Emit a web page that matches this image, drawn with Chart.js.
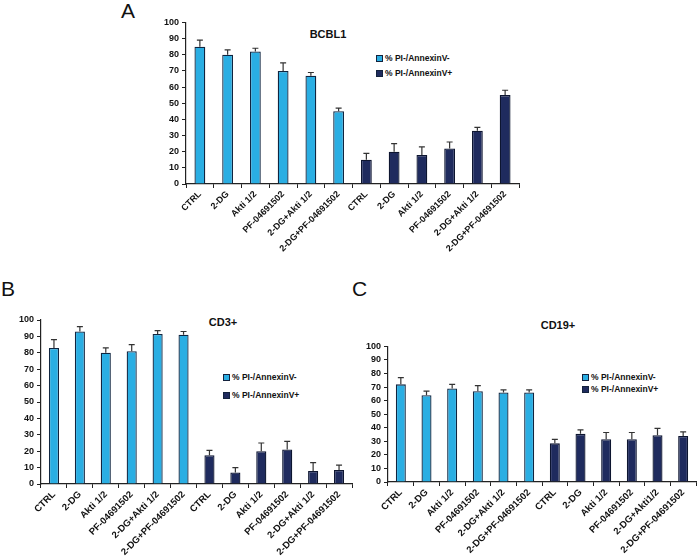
<!DOCTYPE html>
<html>
<head>
<meta charset="utf-8">
<script src="https://cdn.jsdelivr.net/npm/chart.js@4.4.0/dist/chart.umd.min.js"></script>
<style>
    body { margin: 0; width: 700px; height: 560px; background: #fff; position: relative; overflow: hidden; font-family: "Liberation Sans", Arial, sans-serif; color: #111; }
    canvas { position: absolute; }
    .letter { position: absolute; font-size: 21px; line-height: 1; }
    .title { position: absolute; font-size: 11px; font-weight: bold; transform: translateX(-50%); white-space: nowrap; }
    .legend { position: absolute; font-size: 8.5px; font-weight: bold; white-space: nowrap; }
    .legend div { position: absolute; left: 0; white-space: nowrap; }
    .box { display: inline-block; width: 5px; height: 5px; border: 1px solid #13223d; margin-right: 2px; vertical-align: -0.5px; }
</style>
</head>
<body>
<div class="letter" style="left:121px; top:0px;">A</div>
<div class="letter" style="left:1px; top:278px;">B</div>
<div class="letter" style="left:352px; top:278px;">C</div>

<div class="title" style="left:328px; top:28px;">BCBL1</div>
<div class="title" style="left:223px; top:316px;">CD3+</div>
<div class="title" style="left:558px; top:319px;">CD19+</div>

<div class="legend" style="left:376px; top:53px;">
    <div style="top:0px;"><span class="box" style="background:#2aaee3"></span>% PI-/AnnexinV-</div>
    <div style="top:15px;"><span class="box" style="background:#1f2b5e"></span>% PI-/AnnexinV+</div>
</div>
<div class="legend" style="left:223px; top:372px;">
    <div style="top:0px;"><span class="box" style="background:#2aaee3"></span>% PI-/AnnexinV-</div>
    <div style="top:18px;"><span class="box" style="background:#1f2b5e"></span>% PI-/AnnexinV+</div>
</div>
<div class="legend" style="left:582px; top:372px;">
    <div style="top:0px;"><span class="box" style="background:#2aaee3"></span>% PI-/AnnexinV-</div>
    <div style="top:12px;"><span class="box" style="background:#1f2b5e"></span>% PI-/AnnexinV+</div>
</div>

<canvas id="chartA" width="385" height="255" style="left:138px; top:14px;"></canvas>
<canvas id="chartB" width="356" height="250" style="left:0px; top:310px;"></canvas>
<canvas id="chartC" width="350" height="222" style="left:350px; top:338px;"></canvas>

<script>
const treatments = ['CTRL', '2-DG', 'Akti 1/2', 'PF-04691502', '2-DG+Akti 1/2', '2-DG+PF-04691502'];
const treatmentsC2 = ['CTRL', '2-DG', 'Akti 1/2', 'PF-04691502', '2-DG+Akti1/2', '2-DG+PF-04691502'];
const yTicks = [0, 10, 20, 30, 40, 50, 60, 70, 80, 90, 100];

// % PI-/AnnexinV- (live) and % PI-/AnnexinV+ (apoptotic), with error
const bcbl1Live = [85, 80, 82, 70, 67, 45];
const bcbl1LiveErr = [4, 3, 2, 5, 2, 2];
const bcbl1Apop = [15, 20, 18, 22, 33, 55];
const bcbl1ApopErr = [4, 5, 5, 4, 2, 3];

const cd3Live = [83, 93, 80, 81, 91.5, 91];
const cd3LiveErr = [5, 3, 3, 4, 2, 2];
const cd3Apop = [17.5, 7, 20, 21, 8, 8.5];
const cd3ApopErr = [3, 3, 5, 5, 5, 3];

const cd19Live = [72, 64, 69, 67, 66, 66];
const cd19LiveErr = [5, 3, 3, 4, 2, 2];
const cd19Apop = [28.5, 35.5, 31.5, 31.5, 34.5, 34];
const cd19ApopErr = [3, 3, 5, 5, 5, 3];

const LIGHT = '#2aaee3';
const DARK = '#1f2b5e';
const FONT = '"Liberation Sans", Arial, sans-serif';

const errorBars = {
    id: 'errorBars',
    afterDatasetsDraw(chart) {
        const ctx = chart.ctx;
        const yScale = chart.scales.y;
        ctx.save();
        ctx.strokeStyle = '#333';
        ctx.lineWidth = 1.2;
        chart.data.datasets.forEach((ds, di) => {
            const meta = chart.getDatasetMeta(di);
            meta.data.forEach((bar, i) => {
                const v = ds.data[i];
                if (v == null) return;
                const top = yScale.getPixelForValue(v + ds.errors[i]);
                ctx.beginPath();
                ctx.moveTo(bar.x, bar.y);
                ctx.lineTo(bar.x, top);
                ctx.moveTo(bar.x - 3, top);
                ctx.lineTo(bar.x + 3, top);
                ctx.stroke();
            });
        });
        ctx.restore();
    }
};

function makeChart(id, cats, live, liveErr, apop, apopErr, yWidth, xHeight, padTop, xFont) {
    const blanks = live.map(() => null);
    new Chart(document.getElementById(id), {
        type: 'bar',
        data: {
            labels: cats,
            datasets: [
                {
                    label: '% PI-/AnnexinV-',
                    data: live.concat(blanks),
                    errors: liveErr.concat(blanks),
                    backgroundColor: LIGHT,
                    borderColor: '#102540',
                    borderWidth: 1.3
                },
                {
                    label: '% PI-/AnnexinV+',
                    data: blanks.concat(apop),
                    errors: blanks.concat(apopErr),
                    backgroundColor: DARK,
                    borderColor: '#0d1530',
                    borderWidth: 1.3
                }
            ]
        },
        options: {
            responsive: false,
            animation: false,
            skipNull: true,
            categoryPercentage: 0.75,
            barPercentage: 0.52,
            layout: { padding: { top: padTop, right: 4, left: 0, bottom: 0 } },
            plugins: { legend: { display: false }, tooltip: { enabled: false } },
            scales: {
                x: {
                    afterFit: s => { s.height = xHeight; },
                    grid: { drawOnChartArea: false, offset: true, tickLength: 4, color: '#222', tickWidth: 1 },
                    border: { color: '#222', width: 1.2 },
                    ticks: {
                        color: '#111', minRotation: 45, maxRotation: 45, autoSkip: false, padding: 1,
                        font: { family: FONT, size: xFont, weight: 'bold' }
                    }
                },
                y: {
                    min: 0, max: 100,
                    afterFit: s => { s.width = yWidth; },
                    afterBuildTicks: s => { s.ticks = yTicks.map(v => ({ value: v })); },
                    grid: { drawOnChartArea: false, tickLength: 4, color: '#222' },
                    border: { color: '#222', width: 1.2 },
                    ticks: { color: '#111', padding: 3, autoSkip: false, font: { family: FONT, size: 9, weight: 'bold' } }
                }
            }
        },
        plugins: [errorBars]
    });
}

makeChart('chartA', treatments.concat(treatments), bcbl1Live, bcbl1LiveErr, bcbl1Apop, bcbl1ApopErr, 48, 85, 7, 9);
makeChart('chartB', treatments.concat(treatments), cd3Live, cd3LiveErr, cd3Apop, cd3ApopErr, 41, 76, 10, 9.5);
makeChart('chartC', treatments.concat(treatmentsC2), cd19Live, cd19LiveErr, cd19Apop, cd19ApopErr, 38, 78, 7, 9.5);
</script>
</body>
</html>
